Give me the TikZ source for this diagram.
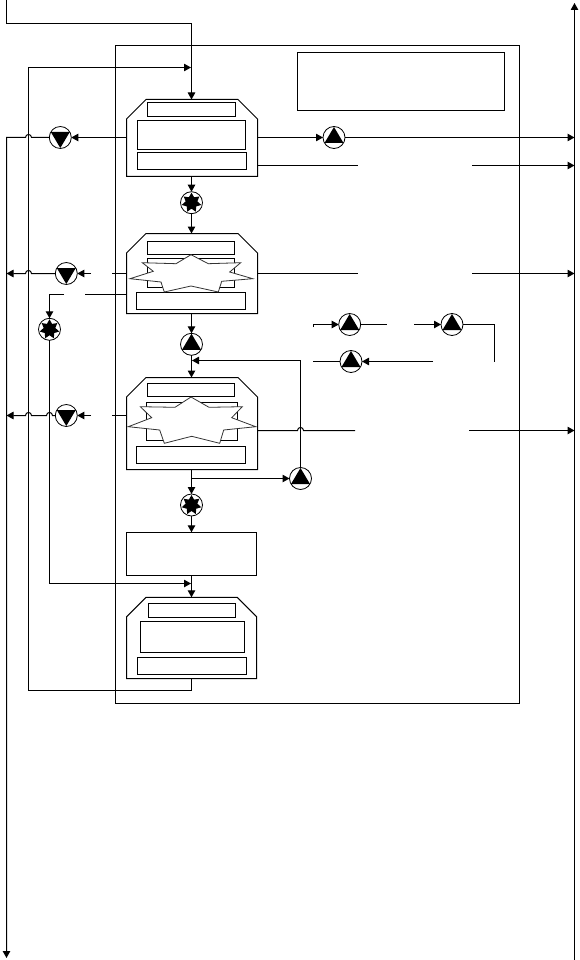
\documentclass[tikz,border=0pt]{standalone}
\usepackage{xcolor}
\usepackage{tikz}
\usetikzlibrary{arrows.meta, positioning, shapes}

\begin{document}
\begin{tikzpicture}[
    x=1pt,
    y=-1pt,
    every node/.style={outer sep=0pt, inner sep=0pt},
    line width=1pt,
    vessel/.style={
        rectangle,
        minimum width=131pt
    },
    tray/.style={
        rectangle,
        draw
    },
    pump/.style={
        circle,
        draw,
        fill=white,
        line width=0.8pt,
        minimum size=22pt
    },
    pumpup/.style={
        pump,
        path picture={
            \fill[black, shift={(path picture bounding box.center)}] (0,-10.5) -- (9.5,5.5) -- (-9.5,5.5) -- cycle;
        }
    },
    pumpdown/.style={
        pump,
        path picture={
            \fill[black, shift={(path picture bounding box.center)}] (0,10.5) -- (9.5,-5.5) -- (-9.5,-5.5) -- cycle;
        }
    },
    pumpstar/.style={
        pump,
        path picture={
            \fill[black, shift={(path picture bounding box.center)}] plot[samples at={0,...,13}, variable=\k]
                ({(mod(\k,2)==0 ? 10 : 6)*sin(\k*180/7)}, {-(mod(\k,2)==0 ? 10 : 6)*cos(\k*180/7)}) -- cycle;
        }
    },
    burst/.style={draw=black!80, fill=white, line width=0.8pt},
    arrow/.style={-{Triangle[length=7pt, width=7.5pt]}}
]
\useasboundingbox (0,0) rectangle (579,960);

\node[rectangle, draw, minimum width=404pt, minimum height=658pt] (frame) at (317.5,374.5) {};
\node[tray, minimum width=207pt, minimum height=58pt] (legend) at (401,81.5) {};

% first vessel
\node[vessel, minimum height=77pt] (vesselA) at (192,138) {};
\node[tray, minimum width=88.5pt, minimum height=14pt] (vesselAtop) at (191.5,109.5) {};
\node[tray, minimum width=107.7pt, minimum height=29pt] (vesselAmid) at (191.2,135) {};
\node[tray, minimum width=109.4pt, minimum height=17pt] (vesselAlow) at (192,161) {};

% second vessel
\node[vessel, minimum height=80pt] (vesselB) at (192,273.5) {};
\node[tray, minimum width=87.5pt, minimum height=13pt] (vesselBtop) at (190.8,248) {};
\node[tray, minimum width=87.5pt, minimum height=29pt] (vesselBmid) at (190.8,273) {};
\node[tray, minimum width=109pt, minimum height=17.5pt] (vesselBlow) at (191,300.8) {};
\fill[white] (170,286) rectangle (212,289);
\draw[burst] (191,254.7) -- (208.3,263.7) -- (240.7,262.7) -- (229.7,272) -- (252.7,278.7)
    -- (221.7,281.3) -- (218.3,292) -- (191,286) -- (164.3,292) -- (161,282) -- (130,278.7)
    -- (153.3,271.3) -- (142.3,262.7) -- (176,263.7) -- cycle;

% third vessel
\node[vessel, minimum height=92pt] (vesselC) at (192,423.5) {};
\node[tray, minimum width=87.5pt, minimum height=13pt] (vesselCtop) at (190.8,390) {};
\node[tray, minimum width=91.5pt, minimum height=38pt] (vesselCmid) at (192.2,421.5) {};
\node[tray, minimum width=109.5pt, minimum height=16.5pt] (vesselClow) at (190.8,455.2) {};
\fill[white] (172,437) rectangle (212,442);
\draw[burst] (191,397) -- (209,407.3) -- (242.3,406.7) -- (231.7,417.7) -- (255.7,426.7)
    -- (223.7,430) -- (219.7,443.3) -- (191.7,436.3) -- (164.3,443.3) -- (159.7,430) -- (128.3,426.7)
    -- (151.7,417.7) -- (140.3,406.7) -- (175,407.3) -- cycle;

\node[tray, minimum width=129.7pt, minimum height=43pt] (filterbox) at (191.8,553.8) {};

% fourth vessel
\node[vessel, minimum width=130.2pt, minimum height=81.4pt] (vesselD) at (191.6,638) {};
\node[tray, minimum width=87.5pt, minimum height=14pt] (vesselDtop) at (191.8,610.5) {};
\node[tray, minimum width=104pt, minimum height=31.5pt] (vesselDmid) at (192.5,636.8) {};
\node[tray, minimum width=109.5pt, minimum height=17pt] (vesselDlow) at (191.8,666) {};

\foreach \v in {vesselA, vesselB, vesselC, vesselD}
    \draw (\v.south west) -- ([yshift=-19.5pt]\v.north west) -- ([xshift=19.5pt]\v.north west)
        -- ([xshift=-19.5pt]\v.north east) -- ([yshift=-19.5pt]\v.north east) -- (\v.south east) -- cycle;

\node[pumpdown] (drainA) at (60.3,137.5) {};
\node[pumpdown] (drainB) at (66.3,273.5) {};
\node[pumpdown] (drainC) at (66.3,415.5) {};
\node[pumpup] (outA) at (334,137.5) {};
\node[pumpup] (liftAB) at (191.5,344.3) {};
\node[pumpup] (liftC) at (300.5,478.5) {};
\node[pumpup] (sideA) at (349.7,324.5) {};
\node[pumpup] (sideB) at (452,324.5) {};
\node[pumpup] (sideC) at (351,361.5) {};
\node[pumpstar] (mixA) at (191.5,202.7) {};
\node[pumpstar] (mixB) at (49.5,329.3) {};
\node[pumpstar] (mixC) at (191.5,505) {};

\coordinate (feedtop) at (6.5,0);
\coordinate (feedbend) at (191.5,23.5);
\coordinate (loopbend) at (28.5,67.5);
\coordinate (loopjoin) at (191,67.5);
\coordinate (loopend) at (28.5,690.5);
\coordinate (mixjoin) at (191,583.5);
\coordinate (drainend) at (6.5,958);
\coordinate (stacktop) at (574.5,3);
\coordinate (stackend) at (574.5,960);
\coordinate (backjoin) at (192,360.5);

\draw (feedtop) -- (6.5,23.5) -- (feedbend);
\draw[arrow] (feedbend) -- (vesselA.north -| feedbend);
\draw[arrow] (loopend) -- (loopbend) -- (loopjoin);
\draw (vesselD.south -| feedbend) -- (191.5,690.5) -- (loopend);
\draw[arrow] (stackend) -- (stacktop);

\draw[arrow] (vesselA.west |- drainA) -- (drainA.east);
\draw[arrow] (drainA.west) -- (31.5,137.5) .. controls (31.5,133.5) and (25.5,133.5) .. (25.5,137.5) -- (6.5,137.5) -- (drainend);
\draw[arrow] (vesselA.east |- outA) -- (outA.west);
\draw[arrow] (outA.east) -- (574.5,137.5);
\draw (vesselA.east |- 0,165.5) -- (358,165.5);
\draw[arrow] (472,165.5) -- (574.5,165.5);

\draw[arrow] (vesselA.south -| mixA) -- (mixA.north);
\draw[arrow] (mixA.south) -- (vesselB.north -| mixA);

\draw (vesselB.west |- drainB) -- (112,273.5);
\draw[arrow] (91,273.5) -- (drainB.east);
\draw[arrow] (drainB.west) -- (31.5,273.5) .. controls (31.5,269.5) and (25.5,269.5) .. (25.5,273.5) -- (6.5,273.5);
\draw (vesselB.west |- 0,294.5) -- (85,294.5);
\draw[arrow] (64,294.5) -- (49.5,294.5) -- (mixB.north);
\draw[arrow] (mixB.south) -- (49.5,583.5) -- (mixjoin);
\draw (vesselB.east |- 0,273.5) -- (358,273.5);
\draw[arrow] (472,273.5) -- (574.5,273.5);

\draw[arrow] (vesselB.south -| liftAB) -- (liftAB.north);
\draw[arrow] (liftAB.south) -- (vesselC.north -| liftAB);
\draw[arrow] (liftC.north) -- (300.5,360.5) -- (backjoin);

\draw (vesselC.west |- drainC) -- (112,415.5);
\draw[arrow] (91,415.5) -- (drainC.east);
\draw[arrow] (drainC.west) -- (52.5,415.5) .. controls (52.5,411.5) and (46.5,411.5) .. (46.5,415.5) -- (31.5,415.5) .. controls (31.5,411.5) and (25.5,411.5) .. (25.5,415.5) -- (6.5,415.5);
\draw (vesselC.east |- 0,430.5) -- (297.5,430.5) .. controls (297.5,426.5) and (303.5,426.5) .. (303.5,430.5) -- (355,430.5);
\draw[arrow] (469,430.5) -- (574.5,430.5);
\draw[arrow] (vesselC.south -| mixA) -- (191.5,478.5) -- (liftC.west);

\draw[arrow] (vesselC.south -| mixC) -- (mixC.north);
\draw[arrow] (mixC.south) -- (filterbox.north -| mixC);
\draw[arrow] (filterbox.south -| mixC) -- (vesselD.north -| mixC);

\draw[arrow] (313,327) -- (313,324.5) -- (sideA.west);
\draw (sideA.east) -- (387,324.5);
\draw[arrow] (414,324.5) -- (sideB.west);
\draw (sideB.east) -- (494.5,324.5) -- (494.5,361.5);
\draw[arrow] (433,361.5) -- (sideC.east);
\draw (sideC.west) -- (313,361.5);

\end{tikzpicture}
\end{document}
